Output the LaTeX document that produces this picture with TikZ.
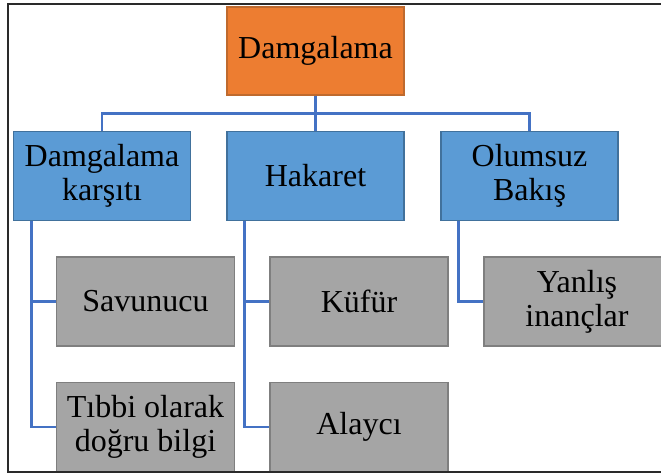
\documentclass[tikz,border=0pt]{standalone}
\usepackage{fontspec}
\setmainfont{Liberation Serif}
\definecolor{orangeF}{HTML}{ED7D31}
\definecolor{orangeD}{HTML}{BF6A2E}
\definecolor{blueF}{HTML}{5B9BD5}
\definecolor{blueD}{HTML}{41719C}
\definecolor{grayF}{HTML}{A5A5A5}
\definecolor{grayD}{HTML}{7F7F7F}
\definecolor{connC}{HTML}{4472C4}
\definecolor{frameC}{HTML}{2A2A2A}
\begin{document}
\begin{tikzpicture}[x=1bp,y=-1bp,
  box/.style={draw, line width=1.5bp, inner sep=0pt, align=center,
    font=\fontsize{32bp}{34bp}\selectfont, text=black},
  rootbox/.style={box, fill=orangeF, draw=orangeD},
  midbox/.style={box, fill=blueF, draw=blueD, minimum width=177bp, minimum height=89bp},
  leafbox/.style={box, fill=grayF, draw=grayD, minimum width=178bp, minimum height=89bp},
  conn/.style={draw=connC, line width=2.5bp}]
\useasboundingbox (0,0) rectangle (661,475);
\node[rootbox, minimum width=177bp, minimum height=88bp] (root) at (315.5,51) {Damgalama};
\node[midbox] (b1) at (102,176) {Damgalama\\karşıtı};
\node[midbox] (b2) at (315.5,176) {Hakaret};
\node[midbox] (b3) at (529.5,176) {Olumsuz\\Bakış};
\node[leafbox] (g1) at (145.5,301.5) {Savunucu};
\node[leafbox] (g2) at (145.5,427) {Tıbbi olarak\\doğru bilgi};
\node[leafbox] (k1) at (359,301.5) {Küfür};
\node[leafbox] (k2) at (359,427) {Alaycı};
\node[leafbox, minimum width=186bp] (y1) at (577,301.5) {Yanlış\\inançlar};
\draw[conn] (root.south) -- ++(0,18) -| (b1.north);
\draw[conn] (root.south) -- (b2.north);
\draw[conn] (root.south) -- ++(0,18) -| (b3.north);
\draw[conn] ([xshift=19bp]b1.south west) |- (g1.west);
\draw[conn] ([xshift=19bp]b1.south west) |- (g2.west);
\draw[conn] ([xshift=18bp]b2.south west) |- (k1.west);
\draw[conn] ([xshift=18bp]b2.south west) |- (k2.west);
\draw[conn] ([xshift=18bp]b3.south west) |- (y1.west);
\draw[frameC, line width=2.5bp] (670,4) -- (8,4) -- (8,472) -- (670,472);
\end{tikzpicture}
\end{document}
